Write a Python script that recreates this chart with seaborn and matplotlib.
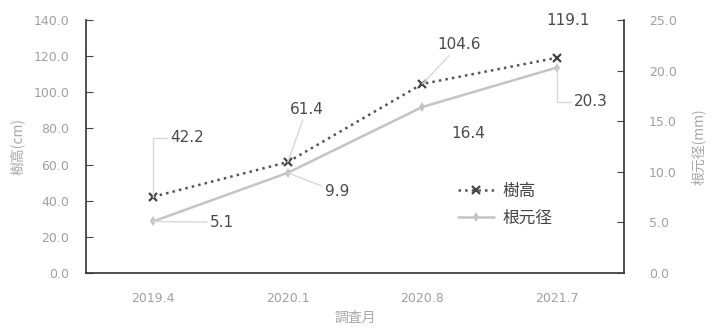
import matplotlib
matplotlib.use("Agg")
import matplotlib.pyplot as plt
import seaborn as sns
import pandas as pd
from matplotlib.lines import Line2D

months = ["2019.4", "2020.1", "2020.8", "2021.7"]
height_cm = [42.2, 61.4, 104.6, 119.1]
root_mm = [5.1, 9.9, 16.4, 20.3]
left_ticks = [0, 20, 40, 60, 80, 100, 120, 140]
right_ticks = [0, 5, 10, 15, 20, 25]

sns.set_style("white")
plt.rcParams['font.family'] = ['DejaVu Sans', 'Noto Sans CJK JP']
CJK = ['Noto Sans CJK JP', 'DejaVu Sans']

fig = plt.figure(figsize=(7.12, 3.28), dpi=100)
ax = fig.add_axes([86/712, 1-273/328, (624-86)/712, (273-20)/328])
ax2 = ax.twinx()

df = pd.DataFrame({"month": months, "h": height_cm, "r": root_mm})

sns.lineplot(data=df, x="month", y="h", ax=ax, sort=False, color="#555555",
             linestyle=":", linewidth=1.8, marker="x", markersize=6,
             markeredgewidth=1.6, markeredgecolor="#444444", legend=False)
sns.lineplot(data=df, x="month", y="r", ax=ax2, sort=False, color="#c4c4c4",
             linewidth=1.8, marker="d", markersize=5, markeredgewidth=0,
             legend=False)

ax.set_xlim(-0.5, 3.5)
ax.set_ylim(0, 140)
ax2.set_ylim(0, 24.8)

ax.set_yticks(left_ticks)
ax.set_yticklabels([f"{v:.1f}" for v in left_ticks])
ax2.set_yticks(right_ticks)
ax2.set_yticklabels([f"{v:.1f}" for v in right_ticks])

ax.set_xticks(range(len(months)))
ax.set_xticklabels(months)
ax.set_xticks([0.5, 1.5, 2.5], minor=True)
ax.tick_params(axis="x", which="major", length=0, pad=14, labelsize=9, labelcolor="#a0a0a0")
ax.tick_params(axis="x", which="minor", length=5, direction="in", color="#444444", width=1)
ax.tick_params(axis="y", length=5, direction="in", pad=12, labelsize=9,
               labelcolor="#a0a0a0", color="#444444", left=True)
ax2.tick_params(axis="y", length=5, direction="in", pad=18, labelsize=9,
                labelcolor="#a0a0a0", color="#444444", right=True)

for a in (ax, ax2):
    a.spines["top"].set_visible(False)
    for s in ("left", "bottom", "right"):
        a.spines[s].set_color("#333333")
        a.spines[s].set_linewidth(1.2)
ax.spines["right"].set_visible(False)
ax2.spines["left"].set_visible(False)
ax2.spines["bottom"].set_visible(False)

ax.set_xlabel("調査月", family=CJK, fontsize=10, color="#a8a8a8", labelpad=4)
ax.set_ylabel("樹高(cm)", family=CJK, fontsize=10, color="#a8a8a8", labelpad=6)
ax2.set_ylabel("根元径(mm)", family=CJK, fontsize=10, color="#a8a8a8", rotation=90, labelpad=10)

def lead(style=None):
    d = dict(arrowstyle="-", color="#d8d8d8", lw=1, shrinkA=0, shrinkB=0)
    if style:
        d["connectionstyle"] = style
    return d

h_off = [(34, 59), (19, 53), (37, 39), (11, 37)]
h_lead = [lead("angle,angleA=0,angleB=90,rad=0"), lead(), lead(), None]
for i, (v, off, ld) in enumerate(zip(height_cm, h_off, h_lead)):
    ax.annotate(f"{v:.1f}", xy=(i, v), xytext=off, textcoords="offset pixels",
                ha="center", va="center", fontsize=11, color="#4a4a4a",
                arrowprops=ld)

r_off = [(69, -1), (49, -19), (46, -26), (34, -34)]
r_lead = [lead(), lead(), None, lead("angle,angleA=0,angleB=90,rad=0")]
for i, (v, off, ld) in enumerate(zip(root_mm, r_off, r_lead)):
    ax2.annotate(f"{v:.1f}", xy=(i, v), xytext=off, textcoords="offset pixels",
                 ha="center", va="center", fontsize=11, color="#4a4a4a",
                 arrowprops=ld)

handles = [Line2D([], [], color="#555555", linestyle=":", linewidth=1.8, marker="x",
                  markersize=6, markeredgewidth=1.6, markeredgecolor="#444444"),
           Line2D([], [], color="#c4c4c4", linewidth=1.8, marker="d", markersize=5,
                  markeredgewidth=0)]
leg = fig.legend(handles, ["樹高", "根元径"], loc="center",
                 bbox_to_anchor=(505/712, 1-205/328), frameon=False,
                 prop={"family": CJK, "size": 12}, handlelength=2.2,
                 labelspacing=0.6, handletextpad=0.5)
for t in leg.get_texts():
    t.set_color("#444444")

fig.savefig("out.png", dpi=100, facecolor="white")
